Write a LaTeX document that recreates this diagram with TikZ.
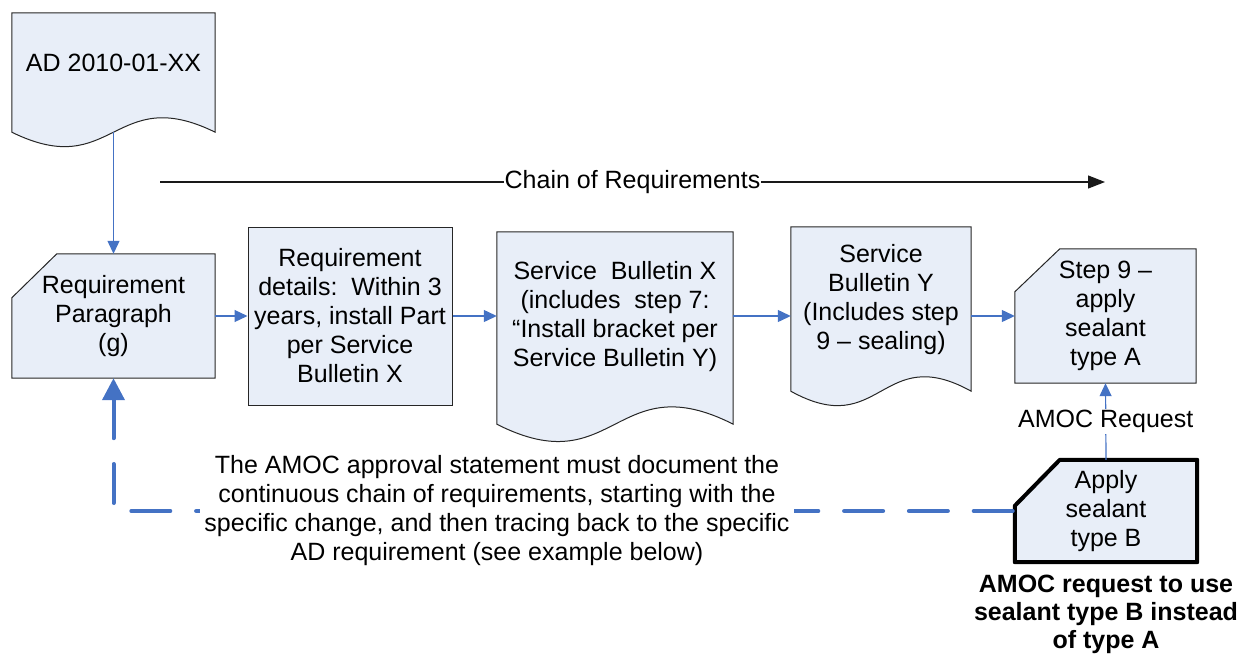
\documentclass[tikz,border=0pt]{standalone}
\usepackage{fontspec}
\setmainfont{Liberation Sans}
\usetikzlibrary{arrows.meta,calc,backgrounds}
\definecolor{boxfill}{RGB}{232,238,248}
\definecolor{arrblue}{RGB}{68,114,196}
\begin{document}
\begin{tikzpicture}[x=1pt,y=-1pt,
  txt/.style={font=\fontsize{25}{29}\selectfont, align=center, inner sep=0pt},
  shapeonly/.style={rectangle, inner sep=0pt, draw=none},
  outline/.style={draw=black!85, fill=boxfill, line width=1pt},
  arr/.style={draw=arrblue, line width=1.2pt, -{Triangle[length=13pt,width=12pt]}},
  chainarr/.style={draw=black!90, line width=1.2pt, -{Triangle[length=17pt,width=13pt]}},
  dasharr/.style={draw=arrblue, line width=4pt, line cap=round, dash pattern=on 39pt off 25.8pt, {Triangle[length=22pt,width=22pt]}-}
]
\useasboundingbox (0,0) rectangle (1240,654);

% AD document
\node[shapeonly, minimum width=203pt, minimum height=119pt] (ad) at (113.5,72.5) {};
\node[txt] (adtext) at (113.5,63) {AD 2010-01-XX};

% Requirement paragraph (cut corner)
\node[shapeonly, txt, minimum width=203pt, minimum height=124pt] (req) at (113.5,316) {Requirement\\Paragraph\\(g)};

% Requirement details
\node[txt, outline, minimum width=204pt, minimum height=178pt] (det) at (350,316) {Requirement\\details:\ \ Within 3\\years, install Part\\per Service\\Bulletin X};

% Service Bulletin X
\node[shapeonly, minimum width=236pt, minimum height=192pt] (sbx) at (615,328) {};
\node[txt] (sbxtext) at (615,317) {Service\ \ Bulletin X\\(includes\ \ step 7:\\“Install bracket per\\Service Bulletin Y)};

% Service Bulletin Y
\node[shapeonly, minimum width=180pt, minimum height=164pt] (sby) at (881,309) {};
\node[txt] (sbytext) at (881,300) {Service\\Bulletin Y\\(Includes step\\9 – sealing)};

% Step 9
\node[shapeonly, txt, minimum width=181pt, minimum height=134pt] (st9) at (1105.5,316) {Step 9 –\\apply\\sealant\\type A};

% Box B
\node[shapeonly, txt, minimum width=182pt, minimum height=102pt] (boxb) at (1106,511) {Apply\\sealant\\type B};

\begin{scope}[on background layer]
  \draw[outline] (ad.north west) -- (ad.north east) -- (ad.south east)
    .. controls ($(ad.south)+(0,-50)$) and ($(ad.south)+(0,50)$) .. (ad.south west) -- cycle;
  \draw[outline] (req.south west) -- ($(req.north west)+(0,44)$) -- ($(req.north west)+(45,0)$)
    -- (req.north east) -- (req.south east) -- cycle;
  \draw[outline] (sbx.north west) -- (sbx.north east) -- (sbx.south east)
    .. controls ($(sbx.south)+(0,-60)$) and ($(sbx.south)+(0,60)$) .. (sbx.south west) -- cycle;
  \draw[outline] (sby.north west) -- (sby.north east) -- (sby.south east)
    .. controls ($(sby.south)+(0,-50)$) and ($(sby.south)+(0,50)$) .. (sby.south west) -- cycle;
  \draw[outline] (st9.south west) -- ($(st9.north west)+(0,43)$) -- ($(st9.north west)+(45,0)$)
    -- (st9.north east) -- (st9.south east) -- cycle;
  \draw[outline, draw=black, line width=4pt, line join=round] (boxb.south west) -- ($(boxb.north west)+(0,46)$) -- ($(boxb.north west)+(45,0)$)
    -- (boxb.north east) -- (boxb.south east) -- cycle;
\end{scope}

% Connectors
\draw[arr] (ad.south) -- (req.north);
\draw[arr] (req.east) -- (det.west);
\draw[arr] (det.east) -- (det.east -| sbx.west);
\draw[arr] (det.east -| sbx.east) -- (det.east -| sby.west);
\draw[arr] (st9.west -| sby.east) -- (st9.west);
\draw[arr] (boxb.north) -- (st9.south) node[midway, txt, fill=white, inner sep=1pt] (amoclbl) {AMOC Request};

% Chain of requirements
\coordinate (cs) at (160,182);
\coordinate (ce) at (1105,182);
\draw[chainarr] (cs) -- (ce) node[midway, txt, fill=white, inner xsep=1pt, inner ysep=0pt] (chainlbl) {Chain of Requirements};

% Dashed feedback
\draw[dasharr] (req.south) -- (boxb.west -| req.south) -- (boxb.west);
\node[txt, fill=white, inner xsep=4pt, inner ysep=1pt] (note) at (497,511) {The AMOC approval statement must document the\\continuous chain of requirements, starting with the\\specific change, and then tracing back to the specific\\AD requirement (see example below)};

% Bold caption
\node[txt, font=\fontsize{25}{28}\selectfont\bfseries] (caption) at (1106,614) {AMOC request to use\\sealant type B instead\\of type A};
\end{tikzpicture}
\end{document}
